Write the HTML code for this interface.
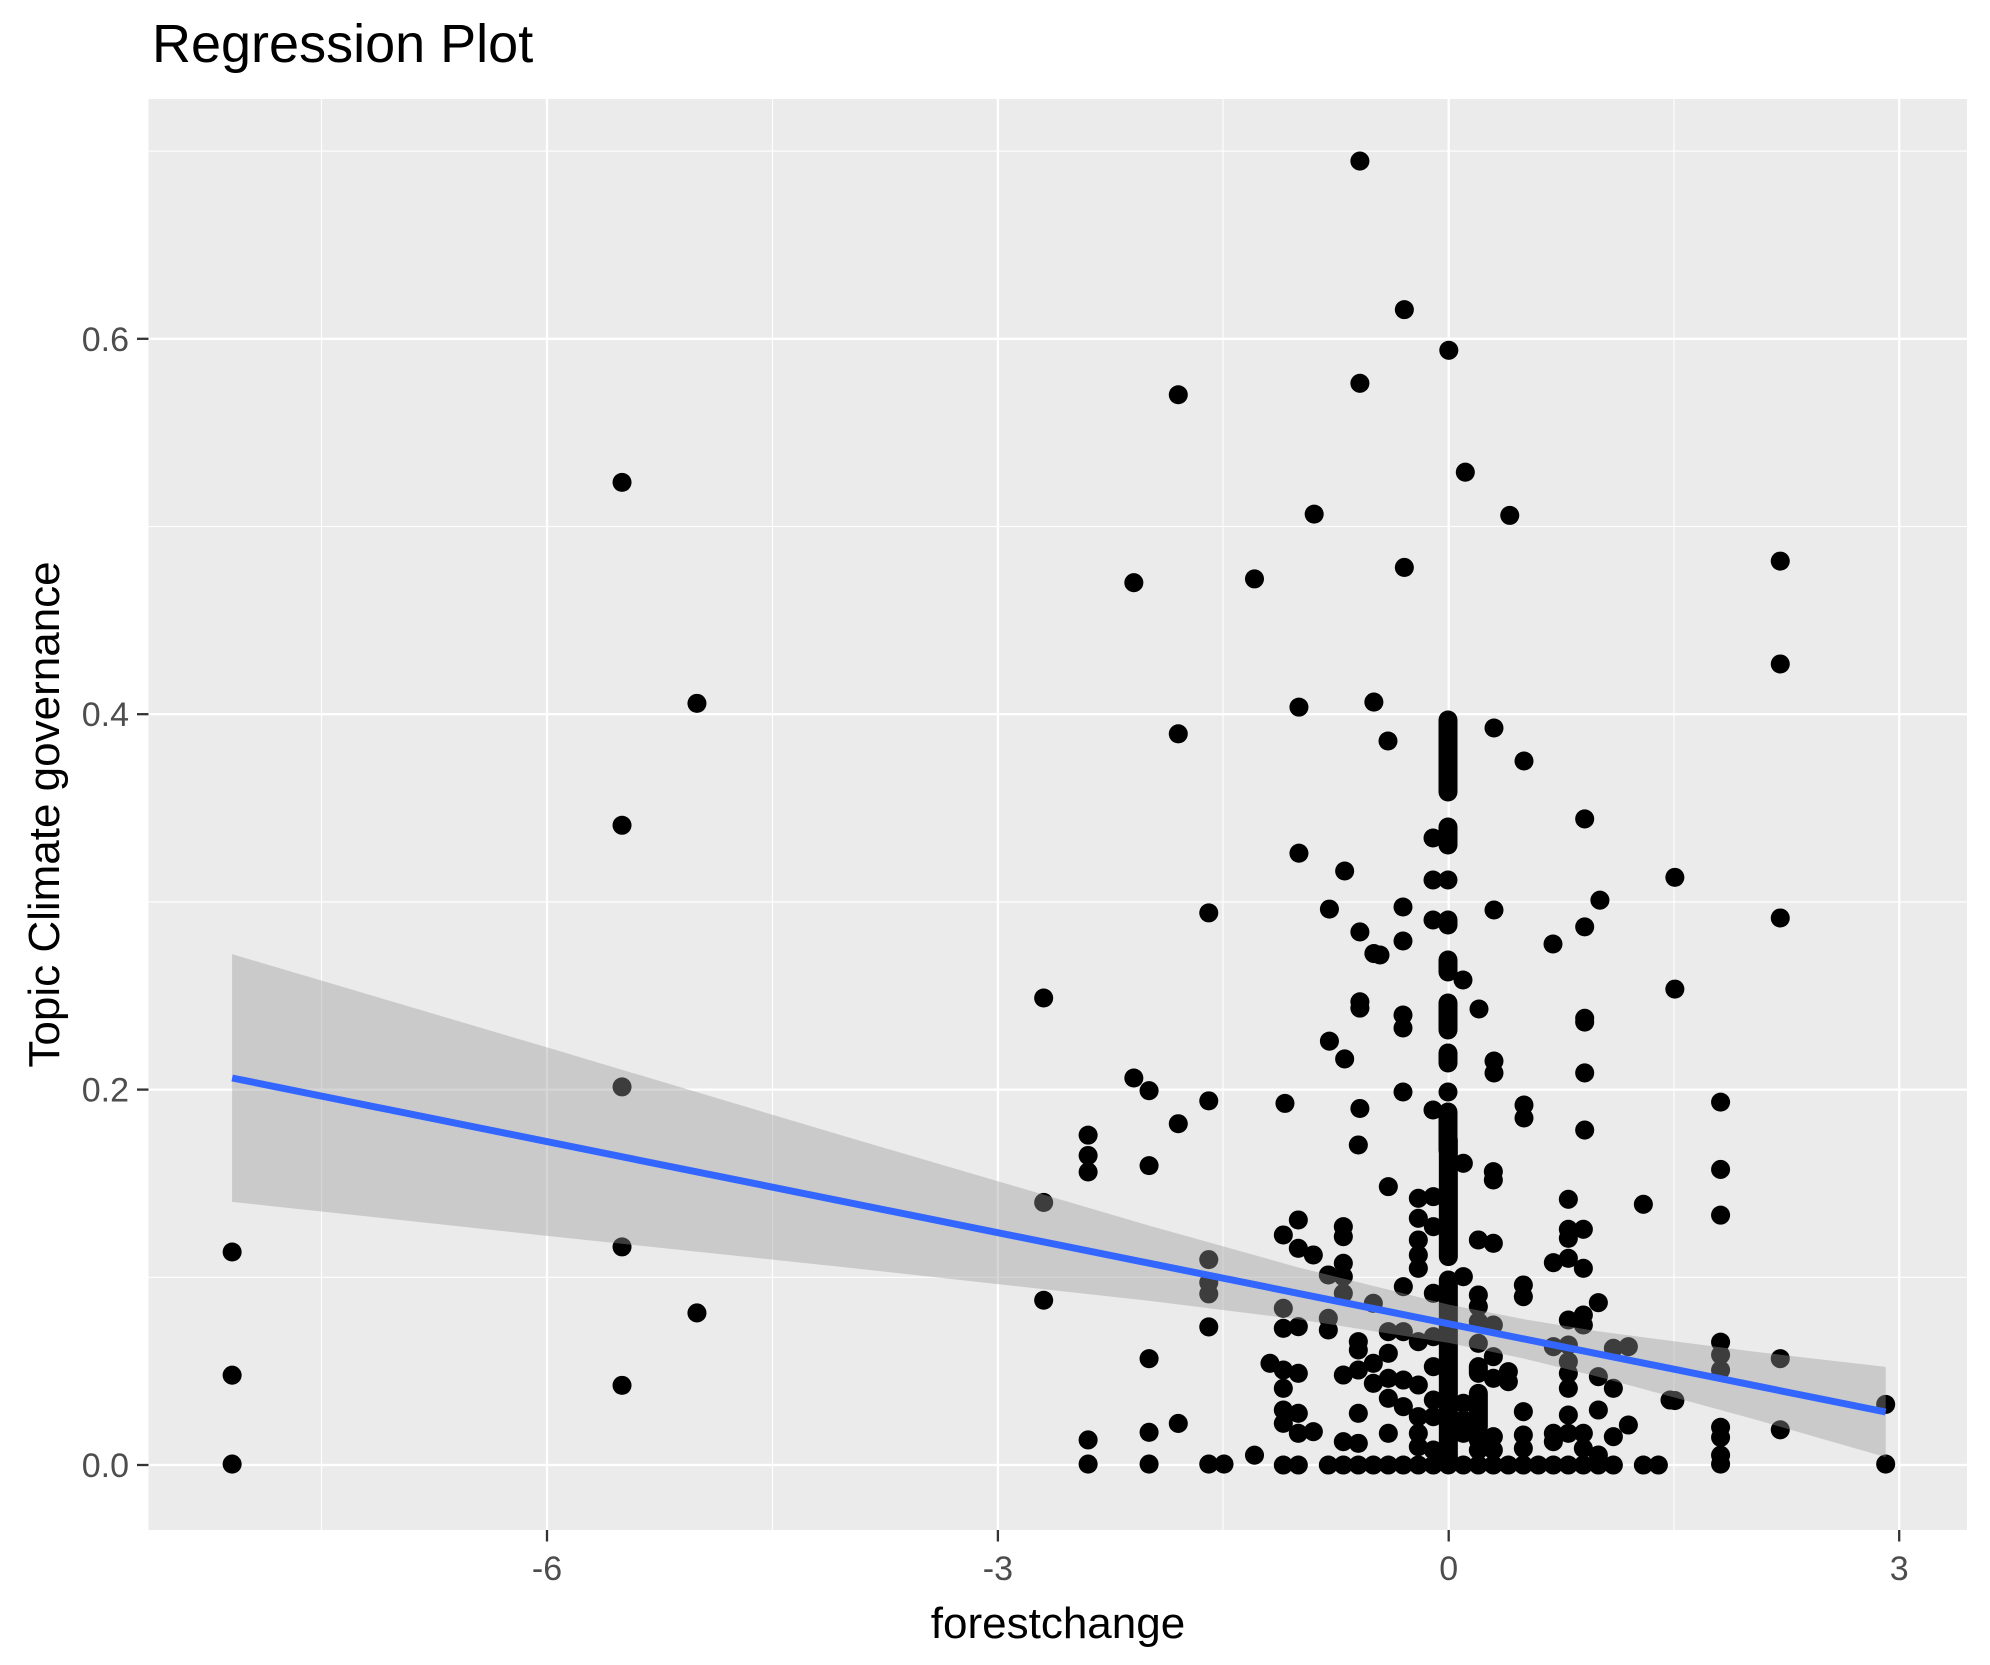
<!DOCTYPE html>
<html><head><meta charset="utf-8"><style>html,body{margin:0;padding:0;background:#fff}svg{display:block}</style></head>
<body>
<svg width="1990" height="1665" viewBox="0 0 1990 1665" xmlns="http://www.w3.org/2000/svg" font-family="Liberation Sans, Arial, sans-serif">
<rect x="0" y="0" width="1990" height="1665" fill="#fff"/>
<rect x="148.5" y="99" width="1818.5" height="1431" fill="#EBEBEB"/>
<g stroke="#fff" stroke-width="1.1">
<line x1="148.5" x2="1967" y1="1277.3" y2="1277.3"/><line x1="148.5" x2="1967" y1="901.9" y2="901.9"/><line x1="148.5" x2="1967" y1="526.5" y2="526.5"/><line x1="148.5" x2="1967" y1="151.1" y2="151.1"/>
<line y1="99" y2="1530" x1="321.5" x2="321.5"/><line y1="99" y2="1530" x1="772.5" x2="772.5"/><line y1="99" y2="1530" x1="1223" x2="1223"/><line y1="99" y2="1530" x1="1674" x2="1674"/>
</g>
<g stroke="#fff" stroke-width="2.3">
<line x1="148.5" x2="1967" y1="1465" y2="1465"/><line x1="148.5" x2="1967" y1="1089.6" y2="1089.6"/><line x1="148.5" x2="1967" y1="714.2" y2="714.2"/><line x1="148.5" x2="1967" y1="338.8" y2="338.8"/>
<line y1="99" y2="1530" x1="547" x2="547"/><line y1="99" y2="1530" x1="997.9" x2="997.9"/><line y1="99" y2="1530" x1="1448.7" x2="1448.7"/><line y1="99" y2="1530" x1="1899.2" x2="1899.2"/>
</g>
<g transform="matrix(1.27,0,0,1.27,1,-1.5)" fill="#000">
<g>
<circle cx="1070" cy="128" r="7.5"/><circle cx="1105" cy="245" r="7.5"/><circle cx="1140" cy="277" r="7.5"/><circle cx="927" cy="312" r="7.5"/><circle cx="1070" cy="303" r="7.5"/><circle cx="489" cy="381" r="7.5"/><circle cx="1153" cy="373" r="7.5"/><circle cx="1034" cy="406" r="7.5"/><circle cx="1188" cy="407" r="7.5"/><circle cx="1105" cy="448" r="7.5"/><circle cx="892" cy="460" r="7.5"/><circle cx="987" cy="457" r="7.5"/><circle cx="1401" cy="443" r="7.5"/><circle cx="1401" cy="524" r="7.5"/><circle cx="548" cy="555" r="7.5"/><circle cx="1022" cy="558" r="7.5"/><circle cx="1081" cy="554" r="7.5"/><circle cx="927" cy="579" r="7.5"/><circle cx="489" cy="651" r="7.5"/><circle cx="1022" cy="673" r="7.5"/><circle cx="1058" cy="687" r="7.5"/><circle cx="1247" cy="646" r="7.5"/><circle cx="1318" cy="692" r="7.5"/><circle cx="951" cy="720" r="7.5"/><circle cx="1046" cy="717" r="7.5"/><circle cx="1259" cy="710" r="7.5"/><circle cx="1247" cy="731" r="7.5"/><circle cx="1401" cy="724" r="7.5"/><circle cx="1070" cy="735" r="7.5"/><circle cx="1081" cy="752" r="7.5"/><circle cx="821" cy="787" r="7.5"/><circle cx="1070" cy="790" r="7.5"/><circle cx="1070" cy="795" r="7.5"/><circle cx="1318" cy="780" r="7.5"/><circle cx="1247" cy="803" r="7.5"/><circle cx="1247" cy="806" r="7.5"/><circle cx="1046" cy="821" r="7.5"/><circle cx="1058" cy="835" r="7.5"/><circle cx="1247" cy="846" r="7.5"/><circle cx="892" cy="850" r="7.5"/><circle cx="904" cy="860" r="7.5"/><circle cx="489" cy="857" r="7.5"/><circle cx="951" cy="868" r="7.5"/><circle cx="1011" cy="870" r="7.5"/><circle cx="1070" cy="874" r="7.5"/><circle cx="1354" cy="869" r="7.5"/><circle cx="927" cy="886" r="7.5"/><circle cx="1247" cy="891" r="7.5"/><circle cx="856" cy="895" r="7.5"/>
<circle cx="182" cy="987" r="7.5"/><circle cx="182" cy="1084" r="7.5"/><circle cx="182" cy="1154" r="7.5"/><circle cx="489" cy="1092" r="7.5"/><circle cx="489" cy="983" r="7.5"/><circle cx="548" cy="1035" r="7.5"/><circle cx="821" cy="1025" r="7.5"/><circle cx="821" cy="948" r="7.5"/><circle cx="856" cy="911" r="7.5"/><circle cx="856" cy="924" r="7.5"/><circle cx="904" cy="919" r="7.5"/><circle cx="856" cy="1135" r="7.5"/><circle cx="856" cy="1154" r="7.5"/><circle cx="904" cy="1071" r="7.5"/><circle cx="904" cy="1129" r="7.5"/><circle cx="904" cy="1154" r="7.5"/><circle cx="927" cy="1122" r="7.5"/><circle cx="951" cy="993" r="7.5"/><circle cx="951" cy="1011" r="7.5"/><circle cx="951" cy="1020" r="7.5"/><circle cx="951" cy="1046" r="7.5"/><circle cx="951" cy="1154" r="7.5"/><circle cx="963" cy="1154" r="7.5"/><circle cx="987" cy="1147" r="7.5"/>
<circle cx="1318" cy="1104" r="7.5"/><circle cx="1354" cy="1058" r="7.5"/><circle cx="1354" cy="1068" r="7.5"/><circle cx="1354" cy="1080" r="7.5"/><circle cx="1354" cy="1125" r="7.5"/><circle cx="1354" cy="1133" r="7.5"/><circle cx="1354" cy="1147" r="7.5"/><circle cx="1354" cy="1154" r="7.5"/><circle cx="1354" cy="922" r="7.5"/><circle cx="1354" cy="958" r="7.5"/><circle cx="1401" cy="1071" r="7.5"/><circle cx="1401" cy="1127" r="7.5"/><circle cx="1484" cy="1107" r="7.5"/><circle cx="1484" cy="1154" r="7.5"/>
</g>
<g transform="translate(999.2,898.8) scale(0.2625)">
<g stroke="#000" stroke-width="57" stroke-linecap="round">
<line x1="535" y1="0" x2="535" y2="350"/><line x1="535" y1="420" x2="535" y2="975"/><line x1="625" y1="680" x2="625" y2="700"/><line x1="625" y1="760" x2="625" y2="860"/>
</g>
<circle cx="580" cy="975" r="28.6"/><circle cx="625" cy="975" r="28.6"/><circle cx="670" cy="975" r="28.6"/><circle cx="715" cy="975" r="28.6"/><circle cx="760" cy="975" r="28.6"/><circle cx="805" cy="975" r="28.6"/><circle cx="850" cy="975" r="28.6"/><circle cx="895" cy="975" r="28.6"/><circle cx="940" cy="975" r="28.6"/><circle cx="985" cy="975" r="28.6"/><circle cx="1030" cy="975" r="28.6"/>
<circle cx="175" cy="975" r="28.6"/><circle cx="220" cy="975" r="28.6"/><circle cx="265" cy="975" r="28.6"/><circle cx="310" cy="975" r="28.6"/><circle cx="355" cy="975" r="28.6"/><circle cx="400" cy="975" r="28.6"/><circle cx="445" cy="975" r="28.6"/><circle cx="490" cy="975" r="28.6"/>
<circle cx="490" cy="780" r="28.6"/><circle cx="490" cy="830" r="28.6"/><circle cx="445" cy="830" r="28.6"/><circle cx="580" cy="790" r="28.6"/><circle cx="580" cy="840" r="28.6"/><circle cx="580" cy="880" r="28.6"/><circle cx="445" cy="880" r="28.6"/><circle cx="445" cy="920" r="28.6"/><circle cx="490" cy="930" r="28.6"/><circle cx="625" cy="930" r="28.6"/><circle cx="625" cy="900" r="28.6"/>
<circle cx="40" cy="975" r="28.6"/><circle cx="85" cy="975" r="28.6"/><circle cx="1120" cy="975" r="28.6"/><circle cx="1165" cy="975" r="28.6"/>
<circle cx="265" cy="15" r="28.6"/><circle cx="580" cy="70" r="28.6"/><circle cx="670" cy="95" r="28.6"/><circle cx="670" cy="120" r="28.6"/><circle cx="355" cy="140" r="28.6"/><circle cx="445" cy="175" r="28.6"/><circle cx="490" cy="170" r="28.6"/><circle cx="895" cy="178" r="28.6"/><circle cx="1120" cy="193" r="28.6"/><circle cx="85" cy="240" r="28.6"/><circle cx="40" cy="285" r="28.6"/><circle cx="220" cy="260" r="28.6"/><circle cx="220" cy="290" r="28.6"/><circle cx="445" cy="235" r="28.6"/><circle cx="490" cy="260" r="28.6"/><circle cx="85" cy="325" r="28.6"/><circle cx="130" cy="345" r="28.6"/><circle cx="625" cy="300" r="28.6"/><circle cx="670" cy="310" r="28.6"/><circle cx="220" cy="370" r="28.6"/><circle cx="175" cy="405" r="28.6"/><circle cx="220" cy="410" r="28.6"/><circle cx="445" cy="300" r="28.6"/><circle cx="445" cy="345" r="28.6"/><circle cx="445" cy="385" r="28.6"/><circle cx="850" cy="368" r="28.6"/><circle cx="895" cy="355" r="28.6"/><circle cx="940" cy="385" r="28.6"/><circle cx="940" cy="268" r="28.6"/><circle cx="895" cy="268" r="28.6"/><circle cx="895" cy="295" r="28.6"/><circle cx="400" cy="440" r="28.6"/><circle cx="580" cy="410" r="28.6"/><circle cx="490" cy="460" r="28.6"/><circle cx="760" cy="435" r="28.6"/><circle cx="760" cy="470" r="28.6"/><circle cx="625" cy="465" r="28.6"/><circle cx="625" cy="500" r="28.6"/><circle cx="985" cy="488" r="28.6"/><circle cx="940" cy="525" r="28.6"/><circle cx="940" cy="555" r="28.6"/><circle cx="895" cy="540" r="28.6"/><circle cx="220" cy="460" r="28.6"/><circle cx="40" cy="505" r="28.6"/><circle cx="310" cy="490" r="28.6"/><circle cx="40" cy="565" r="28.6"/><circle cx="85" cy="560" r="28.6"/><circle cx="175" cy="535" r="28.6"/><circle cx="175" cy="570" r="28.6"/><circle cx="625" cy="545" r="28.6"/><circle cx="670" cy="555" r="28.6"/><circle cx="355" cy="575" r="28.6"/><circle cx="400" cy="575" r="28.6"/><circle cx="445" cy="605" r="28.6"/><circle cx="490" cy="590" r="28.6"/><circle cx="850" cy="620" r="28.6"/><circle cx="895" cy="615" r="28.6"/><circle cx="1030" cy="625" r="28.6"/><circle cx="1075" cy="620" r="28.6"/><circle cx="265" cy="605" r="28.6"/><circle cx="265" cy="630" r="28.6"/><circle cx="355" cy="640" r="28.6"/><circle cx="625" cy="610" r="28.6"/><circle cx="670" cy="650" r="28.6"/><circle cx="0" cy="670" r="28.6"/><circle cx="40" cy="690" r="28.6"/><circle cx="85" cy="700" r="28.6"/><circle cx="40" cy="745" r="28.6"/><circle cx="220" cy="705" r="28.6"/><circle cx="265" cy="690" r="28.6"/><circle cx="310" cy="670" r="28.6"/><circle cx="310" cy="730" r="28.6"/><circle cx="355" cy="715" r="28.6"/><circle cx="400" cy="720" r="28.6"/><circle cx="445" cy="735" r="28.6"/><circle cx="490" cy="680" r="28.6"/><circle cx="670" cy="715" r="28.6"/><circle cx="715" cy="695" r="28.6"/><circle cx="715" cy="725" r="28.6"/><circle cx="895" cy="665" r="28.6"/><circle cx="895" cy="700" r="28.6"/><circle cx="895" cy="745" r="28.6"/><circle cx="985" cy="710" r="28.6"/><circle cx="1030" cy="745" r="28.6"/><circle cx="1200" cy="780" r="28.6"/><circle cx="40" cy="810" r="28.6"/><circle cx="85" cy="820" r="28.6"/><circle cx="40" cy="850" r="28.6"/><circle cx="85" cy="880" r="28.6"/><circle cx="130" cy="875" r="28.6"/><circle cx="265" cy="820" r="28.6"/><circle cx="355" cy="775" r="28.6"/><circle cx="400" cy="800" r="28.6"/><circle cx="760" cy="815" r="28.6"/><circle cx="985" cy="810" r="28.6"/><circle cx="220" cy="905" r="28.6"/><circle cx="265" cy="910" r="28.6"/><circle cx="355" cy="880" r="28.6"/><circle cx="670" cy="890" r="28.6"/><circle cx="670" cy="930" r="28.6"/><circle cx="760" cy="885" r="28.6"/><circle cx="760" cy="925" r="28.6"/><circle cx="850" cy="880" r="28.6"/><circle cx="850" cy="905" r="28.6"/><circle cx="895" cy="825" r="28.6"/><circle cx="895" cy="880" r="28.6"/><circle cx="940" cy="880" r="28.6"/><circle cx="940" cy="925" r="28.6"/><circle cx="985" cy="945" r="28.6"/><circle cx="1030" cy="890" r="28.6"/><circle cx="1075" cy="855" r="28.6"/>
</g>
</g>
<g fill="#000">
<g stroke="#000" stroke-width="19" stroke-linecap="round">
<line x1="1448" y1="720" x2="1448" y2="792"/><line x1="1448" y1="827" x2="1448" y2="845"/><line x1="1448" y1="920" x2="1448" y2="925"/><line x1="1448" y1="960" x2="1448" y2="972"/><line x1="1448" y1="1003" x2="1448" y2="1030"/><line x1="1448" y1="1053" x2="1448" y2="1063"/><line x1="1448" y1="1112" x2="1448" y2="1150"/>
</g>
<circle cx="1448" cy="880" r="9.5"/><circle cx="1448" cy="1092" r="9.5"/>
<circle cx="1388" cy="741" r="9.5"/><circle cx="1494" cy="728" r="9.5"/><circle cx="1524" cy="761" r="9.5"/><circle cx="1433" cy="838" r="9.5"/><circle cx="1433" cy="880" r="9.5"/><circle cx="1403" cy="907" r="9.5"/><circle cx="1494" cy="910" r="9.5"/><circle cx="1433" cy="920" r="9.5"/><circle cx="1403" cy="941" r="9.5"/><circle cx="1553" cy="944" r="9.5"/><circle cx="1380" cy="955" r="9.5"/><circle cx="1463" cy="980" r="9.5"/><circle cx="1479" cy="1009" r="9.5"/><circle cx="1403" cy="1015" r="9.5"/><circle cx="1403" cy="1028" r="9.5"/><circle cx="1494" cy="1061" r="9.5"/><circle cx="1494" cy="1073" r="9.5"/><circle cx="1403" cy="1092" r="9.5"/><circle cx="1433" cy="1110" r="9.5"/><circle cx="1524" cy="1105" r="9.5"/><circle cx="1524" cy="1118" r="9.5"/>
</g>
<g transform="matrix(1.27,0,0,1.27,1,-1.5)">
<path d="M182,752.5 L429,825.6 L666,896.4 L903,965.9 L1022,999.3 L1140,1028.4 L1199,1039.9 L1258,1049.5 L1377,1065.1 L1484,1077.5 L1484,1148.5 L1377,1117.7 L1258,1085.3 L1199,1070.9 L1140,1058.6 L1022,1040.1 L903,1025.3 L666,999.2 L429,974.2 L182,947.5 Z" fill="#999999" fill-opacity="0.4"/>
<line x1="182" y1="850" x2="1484" y2="1113" stroke="#3366FF" stroke-width="5.5"/>
</g>
<g stroke="#333" stroke-width="2.3">
<line x1="137" x2="148.5" y1="1465" y2="1465"/><line x1="137" x2="148.5" y1="1089.6" y2="1089.6"/><line x1="137" x2="148.5" y1="714.2" y2="714.2"/><line x1="137" x2="148.5" y1="338.8" y2="338.8"/>
<line y1="1530" y2="1541.5" x1="547" x2="547"/><line y1="1530" y2="1541.5" x1="997.9" x2="997.9"/><line y1="1530" y2="1541.5" x1="1448.7" x2="1448.7"/><line y1="1530" y2="1541.5" x1="1899.2" x2="1899.2"/>
</g>
<g fill="#4D4D4D" font-size="34">
<text x="129" y="1477" text-anchor="end">0.0</text><text x="129" y="1101.6" text-anchor="end">0.2</text><text x="129" y="726.2" text-anchor="end">0.4</text><text x="129" y="350.8" text-anchor="end">0.6</text>
<text x="547" y="1580" text-anchor="middle">-6</text><text x="997.9" y="1580" text-anchor="middle">-3</text><text x="1448.7" y="1580" text-anchor="middle">0</text><text x="1899.2" y="1580" text-anchor="middle">3</text>
</g>
<text x="1058" y="1638" font-size="44" text-anchor="middle" fill="#000">forestchange</text>
<text transform="translate(59,814.5) rotate(-90)" font-size="44" text-anchor="middle" fill="#000">Topic Climate governance</text>
<text x="152" y="62" font-size="54" fill="#000">Regression Plot</text>
</svg>
</body></html>
